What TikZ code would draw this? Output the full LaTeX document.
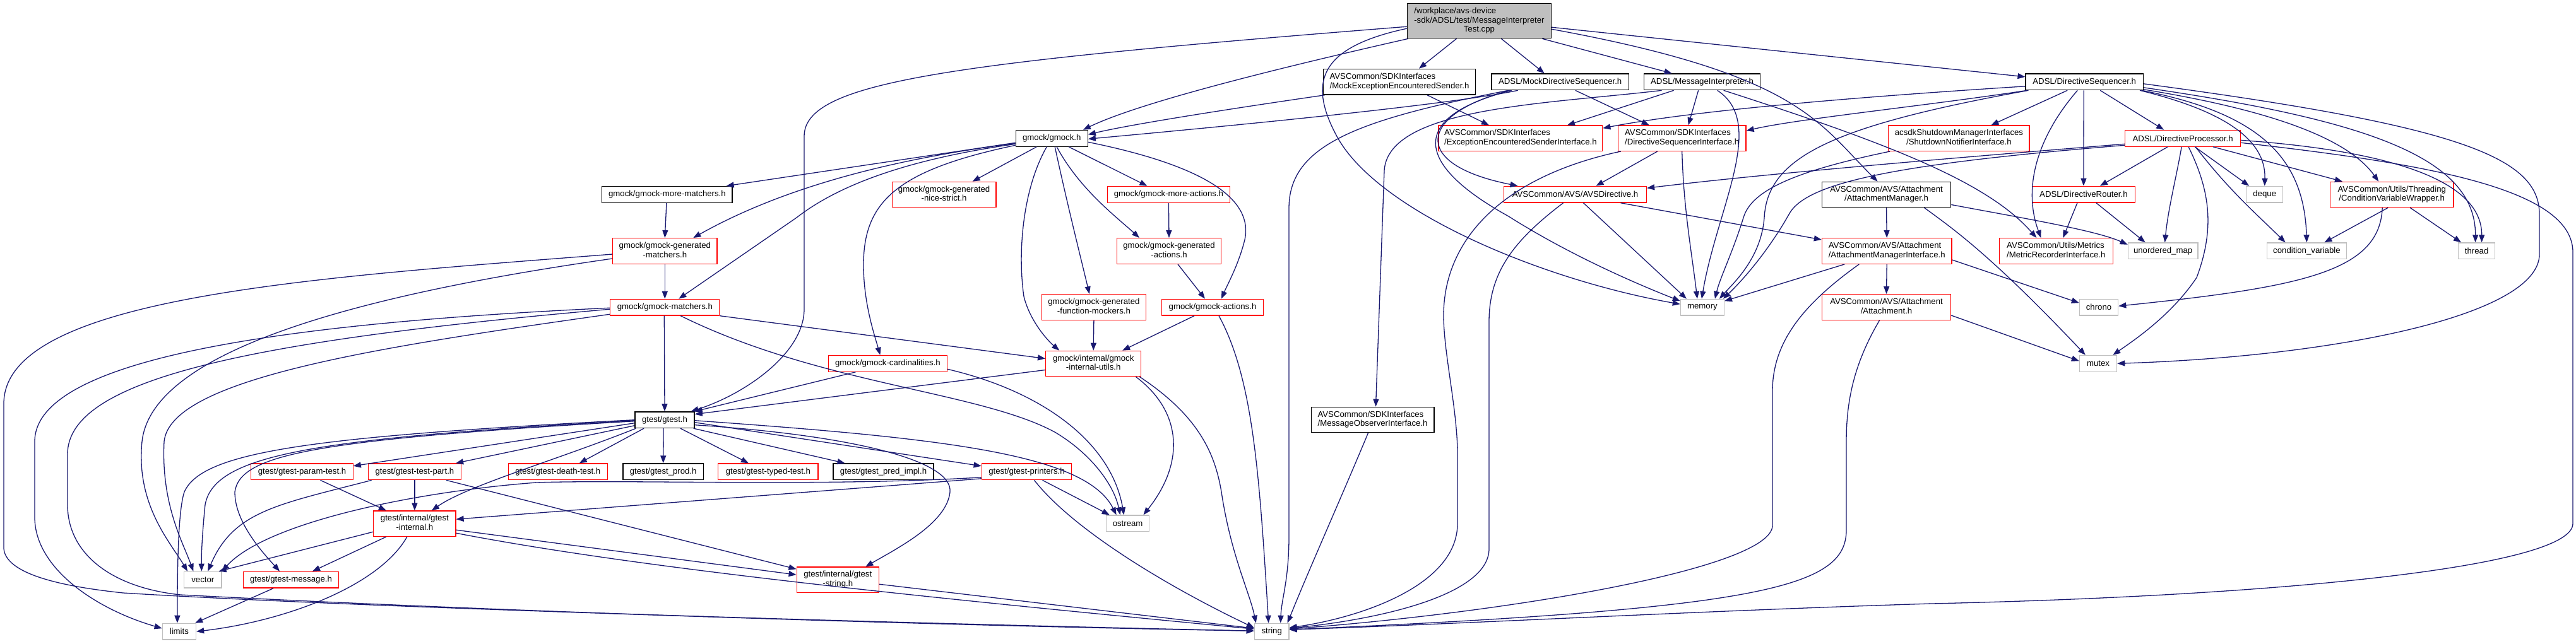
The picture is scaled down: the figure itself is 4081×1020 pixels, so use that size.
\documentclass[tikz,border=0pt]{standalone}
\usepackage{fontspec}
\setmainfont{Liberation Sans}
\usetikzlibrary{arrows.meta}
\definecolor{edgeblue}{HTML}{191970}
\definecolor{boxred}{HTML}{FF0000}
\definecolor{boxgray}{HTML}{BFBFBF}
\definecolor{rootgray}{HTML}{BFBFBF}
\newcommand\nfs{\fontsize{13.2}{14.8}\selectfont}
\newcommand\twoline[2]{\begin{tabular}{@{}l@{}}#1\\\multicolumn{1}{@{}c@{}}{#2}\end{tabular}}
\tikzset{
 box/.style={rectangle, draw, fill=white, inner sep=0pt, line width=1.3pt, font=\nfs},
 rbox/.style={box, draw=boxred},
 kbox/.style={box, draw=black},
 gbox/.style={box, draw=boxgray},
 rootbox/.style={box, draw=black, fill=rootgray},
 sz/.style n args={2}{minimum width=#1pt, minimum height=#2pt},
 lnk/.style={draw=edgeblue, line width=1.3pt, -{Triangle[length=12pt,width=9pt]}},
}
\begin{document}
\begin{tikzpicture}[x=1pt,y=-1pt]
\fill[white] (0,0) rectangle (4081,1020);
\useasboundingbox (0,0) rectangle (4081,1020);
% ---------- nodes ----------
\node[rootbox, sz={228}{55}] (root) at (2343.4,33.2) {\begin{tabular}{@{}l@{}}/workplace/avs-device\\-sdk/ADSL/test/MessageInterpreter\\\multicolumn{1}{@{}c@{}}{Test.cpp}\end{tabular}};
\node[kbox, sz={241}{40.7}] (mees) at (2217,129.7) {\twoline{AVSCommon/SDKInterfaces}{/MockExceptionEncounteredSender.h}};
\node[kbox, sz={217.5}{25.7}] (mds) at (2471.7,129.8) {ADSL/MockDirectiveSequencer.h};
\node[kbox, sz={184.2}{25.7}] (mi) at (2696.6,129.8) {ADSL/MessageInterpreter.h};
\node[kbox, sz={186.2}{25.7}] (ds) at (3302.2,129.8) {ADSL/DirectiveSequencer.h};
\node[kbox, sz={114}{25.7}] (gmock) at (1666.2,219.3) {gmock/gmock.h};
\node[rbox, sz={259.7}{40.3}] (eesi) at (2408.9,219.2) {\twoline{AVSCommon/SDKInterfaces}{/ExceptionEncounteredSenderInterface.h}};
\node[rbox, sz={202.5}{40.3}] (dsi) at (2664.7,219.2) {\twoline{AVSCommon/SDKInterfaces}{/DirectiveSequencerInterface.h}};
\node[rbox, sz={223.2}{40.3}] (sni) at (3103.4,219.2) {\twoline{acsdkShutdownManagerInterfaces}{/ShutdownNotifierInterface.h}};
\node[rbox, sz={183}{25.7}] (dp) at (3458.1,219.3) {ADSL/DirectiveProcessor.h};
\node[rbox, sz={164.8}{40.3}] (gns) at (1495.6,308.5) {\twoline{gmock/gmock-generated}{-nice-strict.h}};
\node[rbox, sz={194}{25.7}] (gma) at (1851.4,308.3) {gmock/gmock-more-actions.h};
\node[kbox, sz={206.2}{25.7}] (gmm) at (1056.9,308.3) {gmock/gmock-more-matchers.h};
\node[rbox, sz={225.9}{25.7}] (avsd) at (2495.5,308.2) {AVSCommon/AVS/AVSDirective.h};
\node[kbox, sz={204.2}{40.3}] (am) at (2988.5,308.5) {\twoline{AVSCommon/AVS/Attachment}{/AttachmentManager.h}};
\node[rbox, sz={162.8}{25.7}] (dr) at (3300.9,308.2) {ADSL/DirectiveRouter.h};
\node[gbox, sz={57.9}{25.7}] (deque) at (3587.7,308.2) {deque};
\node[rbox, sz={195.3}{40.3}] (cvw) at (3789.2,308.5) {\twoline{AVSCommon/Utils/Threading}{/ConditionVariableWrapper.h}};
\node[rbox, sz={165.2}{40.6}] (ggm) at (1053.3,398) {\twoline{gmock/gmock-generated}{-matchers.h}};
\node[rbox, sz={165.4}{40.6}] (gga) at (1852,398) {\twoline{gmock/gmock-generated}{-actions.h}};
\node[rbox, sz={205.5}{40.6}] (ami) at (2989.2,398) {\twoline{AVSCommon/AVS/Attachment}{/AttachmentManagerInterface.h}};
\node[rbox, sz={179.7}{40.6}] (mri) at (3257.3,398) {\twoline{AVSCommon/Utils/Metrics}{/MetricRecorderInterface.h}};
\node[gbox, sz={110.7}{25.7}] (umap) at (3426.6,397.8) {unordered\_map};
\node[gbox, sz={126.3}{25.7}] (cv) at (3654.4,397.8) {condition\_variable};
\node[gbox, sz={58}{25.7}] (thread) at (3923.6,397.8) {thread};
\node[rbox, sz={173}{25.7}] (gmat) at (1053.3,487.2) {gmock/gmock-matchers.h};
\node[rbox, sz={165.4}{40.6}] (gfm) at (1732.9,487) {\twoline{gmock/gmock-generated}{-function-mockers.h}};
\node[rbox, sz={161.5}{25.7}] (gact) at (1921,487.2) {gmock/gmock-actions.h};
\node[gbox, sz={69}{25.7}] (memory) at (2696.9,487.2) {memory};
\node[rbox, sz={204.2}{40.6}] (att) at (2988.5,487) {\twoline{AVSCommon/AVS/Attachment}{/Attachment.h}};
\node[gbox, sz={61.2}{25.7}] (chrono) at (3325,487.2) {chrono};
\node[rbox, sz={188.2}{25.7}] (card) at (1406.4,576.3) {gmock/gmock-cardinalities.h};
\node[rbox, sz={151.1}{40.4}] (giu) at (1732.2,576.5) {\twoline{gmock/internal/gmock}{-internal-utils.h}};
\node[gbox, sz={59.2}{25.7}] (mutex) at (3324,576.3) {mutex};
\node[kbox, sz={194.7}{40.4}] (moi) at (2174.5,665.5) {\twoline{AVSCommon/SDKInterfaces}{/MessageObserverInterface.h}};
\node[kbox, sz={94}{25.7}] (gtest) at (1053,665.7) {gtest/gtest.h};
\node[rbox, sz={161.4}{25.7}] (gpt) at (478.5,747.8) {gtest/gtest-param-test.h};
\node[rbox, sz={147.2}{25.7}] (gtp) at (656.9,747.8) {gtest/gtest-test-part.h};
\node[rbox, sz={156.9}{25.7}] (gdt) at (883.8,747.8) {gtest/gtest-death-test.h};
\node[kbox, sz={127.4}{25.7}] (gprod) at (1050.7,747.8) {gtest/gtest\_prod.h};
\node[rbox, sz={158.2}{25.7}] (gtt) at (1216.9,747.8) {gtest/gtest-typed-test.h};
\node[kbox, sz={158.9}{25.7}] (gpi) at (1399.5,747.8) {gtest/gtest\_pred\_impl.h};
\node[rbox, sz={142.5}{25.7}] (gpr) at (1626.5,747.8) {gtest/gtest-printers.h};
\node[rbox, sz={130.2}{40.3}] (gint) at (656.9,830.2) {\twoline{gtest/internal/gtest}{-internal.h}};
\node[gbox, sz={68.4}{25.7}] (ostream) at (1786.6,829.8) {ostream};
\node[gbox, sz={59.2}{25.7}] (vector) at (321.3,919.2) {vector};
\node[rbox, sz={151.1}{25.7}] (gmsg) at (461,919.2) {gtest/gtest-message.h};
\node[rbox, sz={130.2}{40.3}] (gstr) at (1327.3,919.2) {\twoline{gtest/internal/gtest}{-string.h}};
\node[gbox, sz={53.3}{25.7}] (limits) at (283.9,1001.2) {limits};
\node[gbox, sz={54.6}{25.7}] (string) at (2014.7,1001.2) {string};
% ---------- edges: root ----------
\draw[lnk] ([yshift=-9]root.west) .. controls (1500,100) and (1274,130) .. (1274,216) -- (1274,490) .. controls (1274,560) and (1180,625) .. ([xshift=-6]gtest.north east);
\draw[lnk] ([xshift=2]root.south west) .. controls (1950,125) and (1790,170) .. ([xshift=-8]gmock.north east);
\draw[lnk] ([xshift=-36]root.south) -- ([xshift=31]mees.north);
\draw[lnk] ([xshift=35]root.south) -- ([xshift=-25]mds.north);
\draw[lnk] ([xshift=100]root.south) -- ([xshift=-48]mi.north);
\draw[lnk] ([yshift=-10]root.east) -- ([yshift=8]ds.west);
\draw[lnk] ([yshift=-13]root.east) .. controls (2850,118) and (2880,194) .. ([xshift=-14]am.north);
\draw[lnk] ([yshift=-12]root.west) .. controls (2090,75) and (2070,130) .. (2120,220) .. controls (2190,340) and (2450,445) .. ([yshift=5]memory.west);
% mees
\draw[lnk] ([xshift=3]mees.south west) .. controls (2000,165) and (1800,195) .. ([yshift=6]gmock.east);
\draw[lnk] ([xshift=44]mees.south) -- ([xshift=-50]eesi.north);
% mds
\draw[lnk] ([xshift=-67]mds.south) .. controls (2300,165) and (2000,195) .. ([yshift=-1]gmock.east);
\draw[lnk] ([xshift=24]mds.south) -- ([xshift=-52]dsi.north);
\draw[lnk] ([xshift=-80]mds.south) .. controls (2250,180) and (2230,260) .. ([xshift=-91]avsd.north);
\draw[lnk] ([xshift=-77]mds.south) .. controls (2230,185) and (2240,260) .. (2390,343) .. controls (2480,400) and (2580,445) .. ([yshift=10]memory.west);
\draw[lnk] ([xshift=-82]mds.south) .. controls (2150,190) and (2042,230) .. (2042,330) -- (2042,850) .. controls (2042,920) and (2030,950) .. ([xshift=14]string.north);
% mi
\draw[lnk] ([xshift=-45]mi.south) -- ([xshift=74]eesi.north);
\draw[lnk] ([xshift=-6]mi.south) -- ([xshift=10]dsi.north);
\draw[lnk] ([xshift=24]mi.south) .. controls (2800,195) and (2720,330) .. ([xshift=-1]memory.north);
\draw[lnk] ([xshift=34]mi.south) .. controls (3000,230) and (3150,290) .. ([xshift=-31]mri.north);
\draw[lnk] ([xshift=-64]mi.south) .. controls (2450,165) and (2200,170) .. (2193,270) -- ([xshift=5]moi.north);
% ds
\draw[lnk] ([yshift=-7]ds.west) .. controls (3000,150) and (2700,172) .. ([yshift=16]eesi.east);
\draw[lnk] ([xshift=3]ds.south west) .. controls (3050,168) and (2850,188) .. ([yshift=12]dsi.east);
\draw[lnk] ([xshift=5]ds.south west) .. controls (2900,200) and (2800,250) .. (2795,345) .. controls (2790,410) and (2745,450) .. ([xshift=27]memory.north);
\draw[lnk] ([xshift=-27]ds.south) -- ([xshift=51]sni.north);
\draw[lnk] ([xshift=-11]ds.south) .. controls (3225,220) and (3205,300) .. ([xshift=-24]mri.north);
\draw[lnk] ([xshift=-1]ds.south) -- (dr.north);
\draw[lnk] ([xshift=25]ds.south) -- ([xshift=-30]dp.north);
\draw[lnk] ([xshift=-6]ds.south east) .. controls (3520,175) and (3590,220) .. (deque.north);
\draw[lnk] ([xshift=-3]ds.south east) .. controls (3580,180) and (3650,250) .. (cv.north);
\draw[lnk] ([yshift=-12]ds.east) .. controls (3600,175) and (3720,220) .. ([xshift=-21]cvw.north);
\draw[lnk] ([yshift=-9]ds.east) .. controls (3750,190) and (3922,250) .. ([xshift=-2]thread.north);
\draw[lnk] ([yshift=-3]ds.east) .. controls (3900,200) and (4023,250) .. (4023,340) -- (4023,403) .. controls (4023,500) and (3700,565) .. (mutex.east);
% dp
\draw[lnk] ([yshift=-9]dp.west) .. controls (3100,250) and (2800,275) .. ([yshift=10]avsd.east);
\draw[lnk] ([yshift=-11]dp.west) .. controls (3000,260) and (2860,290) .. (2834,340) .. controls (2800,400) and (2760,445) .. ([xshift=33]memory.north);
\draw[lnk] ([xshift=-24]dp.south) -- ([xshift=26]dr.north);
\draw[lnk] ([xshift=-2]dp.south) .. controls (3448,280) and (3435,330) .. ([xshift=3]umap.north);
\draw[lnk] ([xshift=9]dp.south) .. controls (3500,300) and (3510,360) .. (3480,440) .. controls (3440,500) and (3380,540) .. ([xshift=-7]mutex.north east);
\draw[lnk] ([xshift=19]dp.south) -- ([xshift=5]deque.north west);
\draw[lnk] ([xshift=20]dp.south) .. controls (3530,300) and (3570,335) .. ([xshift=30]cv.north west);
\draw[lnk] ([xshift=48]dp.south) -- ([xshift=20]cvw.north west);
\draw[lnk] ([yshift=-3]dp.east) .. controls (3800,240) and (3932,290) .. ([xshift=8]thread.north);
\draw[lnk] ([yshift=-7]dp.east) .. controls (3850,260) and (4076,300) .. (4076,400) -- (4076,830) .. controls (4076,900) and (3600,945) .. (3060,957) .. controls (2700,968) and (2300,990) .. ([yshift=3]string.east);
% cvw
\draw[lnk] ([xshift=-6]cvw.south) -- ([xshift=28]cv.north);
\draw[lnk] ([xshift=29]cvw.south) -- ([xshift=5]thread.north west);
\draw[lnk] ([xshift=-15]cvw.south) .. controls (3770,430) and (3650,455) .. ([yshift=2]chrono.east);
% am
\draw[lnk] (am.south) -- (ami.north);
\draw[lnk] ([yshift=-16]am.east) .. controls (3200,345) and (3320,365) .. ([yshift=10]umap.west);
\draw[lnk] ([xshift=60]am.south) .. controls (3090,360) and (3150,400) .. ([xshift=10]mutex.north west);
% ami
\draw[lnk] ([xshift=-67]ami.south) -- ([yshift=10]memory.east);
\draw[lnk] (ami.south) -- (att.north);
\draw[lnk] ([xshift=-44]ami.south) .. controls (2860,480) and (2808,540) .. (2808,620) -- (2808,833) .. controls (2808,900) and (2400,970) .. ([yshift=4]string.east);
\draw[lnk] ([yshift=-14]ami.east) -- ([yshift=7]chrono.west);
% att
\draw[lnk] ([xshift=-11]att.south) .. controls (2935,580) and (2925,640) .. (2925,700) -- (2925,840) .. controls (2925,930) and (2800,965) .. ([yshift=3]string.east);
\draw[lnk] ([yshift=-13]att.east) -- ([yshift=4]mutex.west);
% dr
\draw[lnk] ([xshift=-10]dr.south) -- ([xshift=11]mri.north);
\draw[lnk] ([xshift=20]dr.south) -- ([xshift=-28]umap.north);
% sni
\draw[lnk] ([xshift=3]sni.south west) .. controls (2850,270) and (2775,300) .. (2762,345) .. controls (2745,400) and (2725,440) .. ([xshift=20]memory.north);
% avsd
\draw[lnk] ([xshift=13]avsd.south) -- ([xshift=-25]memory.north);
\draw[lnk] ([xshift=-19]avsd.south) .. controls (2400,380) and (2359,430) .. (2359,510) -- (2359,870) .. controls (2359,940) and (2200,980) .. ([yshift=5]string.east);
\draw[lnk] ([xshift=72]avsd.south) -- ([yshift=18]ami.west);
% dsi
\draw[lnk] ([xshift=-39]dsi.south) -- ([xshift=33]avsd.north);
\draw[lnk] (dsi.south) .. controls (2667,330) and (2680,400) .. ([xshift=-8]memory.north);
\draw[lnk] ([xshift=-97]dsi.south) .. controls (2380,280) and (2287,380) .. (2287,500) .. controls (2287,560) and (2309,650) .. (2309,720) -- (2309,830) .. controls (2309,930) and (2150,980) .. ([yshift=6]string.east);
% moi
\draw[lnk] ([xshift=-7]moi.south) .. controls (2120,800) and (2075,900) .. ([xshift=-3]string.north east);
% gmock
\draw[lnk] ([yshift=-7]gmock.west) -- ([xshift=-10]gmm.north east);
\draw[lnk] ([yshift=-8]gmock.west) .. controls (1350,260) and (1200,320) .. ([xshift=45]ggm.north);
\draw[lnk] ([yshift=-9]gmock.west) .. controls (1420,255) and (1320,300) .. (1262,345) -- ([xshift=22]gmat.north);
\draw[lnk] ([yshift=-11]gmock.west) .. controls (1420,270) and (1368,320) .. (1368,420) .. controls (1368,480) and (1385,530) .. ([xshift=-12]card.north);
\draw[lnk] ([xshift=-24]gmock.south) -- ([xshift=45]gns.north);
\draw[lnk] ([xshift=-8]gmock.south) .. controls (1620,300) and (1612,400) .. (1622,470) .. controls (1632,510) and (1660,540) .. ([xshift=-54]giu.north);
\draw[lnk] ([xshift=5]gmock.south) .. controls (1690,320) and (1710,400) .. ([xshift=-7]gfm.north);
\draw[lnk] ([xshift=8]gmock.south) .. controls (1710,300) and (1770,345) .. ([xshift=-47]gga.north);
\draw[lnk] ([xshift=27]gmock.south) -- ([xshift=-34]gma.north);
\draw[lnk] ([yshift=-6]gmock.east) .. controls (1920,265) and (1985,320) .. (1972,380) .. controls (1962,420) and (1945,450) .. ([xshift=14]gact.north);
% gmock subtree
\draw[lnk] ([xshift=-1]gmm.south) -- (ggm.north);
\draw[lnk] (ggm.south) -- (gmat.north);
\draw[lnk] ([yshift=-5]ggm.west) .. controls (500,440) and (6,470) .. (6,640) -- (6,870) .. controls (10,915) and (120,932) .. (195,940) .. controls (600,965) and (1500,990) .. ([yshift=1]string.west);
\draw[lnk] ([yshift=-12]ggm.west) .. controls (550,470) and (240,560) .. (225,700) .. controls (215,800) and (270,860) .. ([xshift=6]vector.north west);
\draw[lnk] ([xshift=-1]gmat.south) -- (gtest.north);
\draw[lnk] (gmat.south east) -- ([yshift=8]giu.west);
\draw[lnk] ([xshift=25]gmat.south) .. controls (1300,610) and (1550,620) .. (1671,685) .. controls (1730,720) and (1765,770) .. ([xshift=-12]ostream.north);
\draw[lnk] ([yshift=-1]gmat.west) .. controls (500,510) and (55,560) .. (55,700) -- (55,820) .. controls (55,900) and (150,965) .. ([yshift=5]limits.west);
\draw[lnk] ([yshift=-3]gmat.west) .. controls (400,540) and (107,600) .. (107,720) -- (107,800) .. controls (107,880) and (180,932) .. (286,943) .. controls (800,970) and (1500,992) .. ([yshift=1]string.west);
\draw[lnk] ([yshift=-11]gmat.west) .. controls (600,550) and (270,600) .. (260,700) .. controls (255,800) and (290,860) .. ([xshift=-15]vector.north);
\draw[lnk] ([xshift=-51]card.south) -- (gtest.north east);
\draw[lnk] ([yshift=-9]card.east) .. controls (1650,620) and (1760,700) .. ([xshift=-6]ostream.north);
\draw[lnk] ([yshift=-10]giu.west) -- ([yshift=9]gtest.east);
\draw[lnk] ([xshift=-9]giu.south east) .. controls (1870,650) and (1880,730) .. ([xshift=-10]ostream.north east);
\draw[lnk] ([xshift=-3]giu.south east) .. controls (1900,660) and (1925,720) .. (1935,780) .. controls (1950,880) and (1980,940) .. ([xshift=-25]string.north);
\draw[lnk] ([xshift=-29]gact.south) -- ([xshift=46]giu.north);
\draw[lnk] ([xshift=10]gact.south) .. controls (1985,600) and (1995,750) .. ([xshift=-5]string.north);
\draw[lnk] (gfm.south) -- (giu.north);
\draw[lnk] ([xshift=14]gga.south) -- ([xshift=-12]gact.north);
\draw[lnk] (gma.south) -- (gga.north);
% gtest
\draw[lnk] ([yshift=-5]gtest.west) -- ([yshift=9]gpt.east);
\draw[lnk] ([yshift=-9]gtest.west) -- ([xshift=-9]gtp.north east);
\draw[lnk] ([xshift=-33]gtest.south) -- ([xshift=34]gdt.north);
\draw[lnk] ([xshift=2]gtest.south west) .. controls (880,730) and (740,770) .. ([xshift=27]gint.north);
\draw[lnk] ([xshift=-2]gtest.south) -- (gprod.north);
\draw[lnk] ([xshift=25]gtest.south) -- ([xshift=-31]gtt.north);
\draw[lnk] ([xshift=-2]gtest.south east) -- ([xshift=-61]gpi.north);
\draw[lnk] ([yshift=-4]gtest.east) -- ([yshift=9]gpr.west);
\draw[lnk] ([yshift=-8]gtest.east) .. controls (1350,690) and (1510,730) .. (1505,780) .. controls (1500,830) and (1420,870) .. ([xshift=44]gstr.north);
\draw[lnk] ([yshift=-1]gtest.east) .. controls (1500,695) and (1720,720) .. ([xshift=-18]ostream.north);
\draw[lnk] (gtest.west) .. controls (500,692) and (320,715) .. (292,780) .. controls (282,810) and (281,900) .. ([xshift=-3]limits.north);
\draw[lnk] ([yshift=-1]gtest.west) .. controls (500,695) and (340,720) .. (325,800) .. controls (320,850) and (319,880) .. ([xshift=-2]vector.north);
\draw[lnk] ([yshift=-2]gtest.west) .. controls (500,697) and (380,720) .. (372,780) .. controls (372,830) and (420,880) .. ([xshift=-18]gmsg.north);
% gtest subtree
\draw[lnk] ([xshift=29]gpt.south) -- ([xshift=-45]gint.north);
\draw[lnk] ([xshift=6]gtp.south west) .. controls (440,800) and (370,810) .. ([xshift=8]vector.north);
\draw[lnk] (gtp.south) -- (gint.north);
\draw[lnk] ([xshift=50]gtp.south) -- ([yshift=17]gstr.west);
\draw[lnk] ([yshift=-13]gint.west) -- ([xshift=-5]vector.north east);
\draw[lnk] ([xshift=-45]gint.south) -- ([xshift=34]gmsg.north);
\draw[lnk] ([xshift=-12]gint.south) .. controls (600,930) and (450,985) .. (limits.east);
\draw[lnk] ([yshift=-10]gint.east) -- ([yshift=8]gstr.west);
\draw[lnk] ([yshift=-15]gint.east) .. controls (1022,903) and (1487,949) .. ([yshift=4]string.west);
\draw[lnk] ([yshift=-9]gpr.west) .. controls (1300,772) and (1000,760) .. (850,765) .. controls (650,780) and (420,830) .. (vector.north east);
\draw[lnk] ([yshift=-11]gpr.west) -- ([yshift=7]gint.east);
\draw[lnk] ([xshift=25]gpr.south) -- ([xshift=6]ostream.north west);
\draw[lnk] ([xshift=12]gpr.south) .. controls (1700,840) and (1850,930) .. ([yshift=6]string.west);
\draw[lnk] ([xshift=-28]gmsg.south) -- ([xshift=-2]limits.north east);
\draw[lnk] ([yshift=-7]gstr.east) -- ([yshift=5]string.west);
\end{tikzpicture}
\end{document}
